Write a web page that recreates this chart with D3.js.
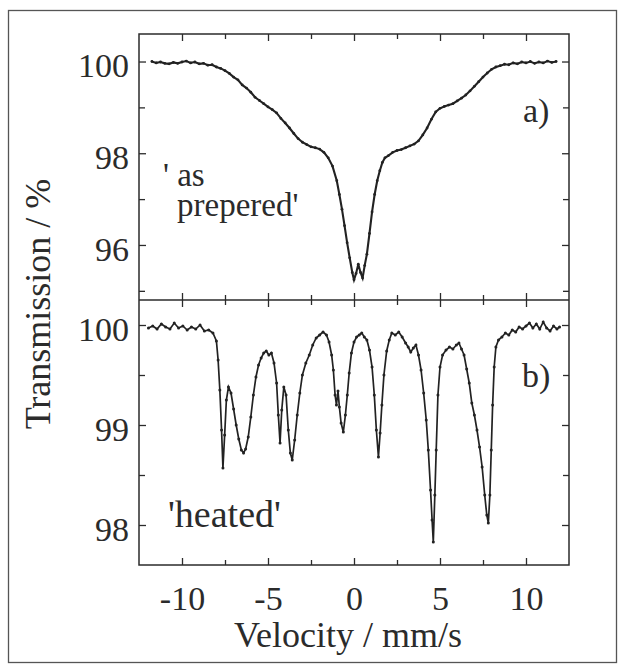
<!DOCTYPE html>
<html><head><meta charset="utf-8">
<script src="https://cdn.jsdelivr.net/npm/d3@7/dist/d3.min.js"></script>
</head><body style="margin:0">
<svg id="c" width="624" height="668" style="display:block;background:#fff"></svg>
<script>
// ---- data ----
const velocityA = [-11.75,-11.5,-11.25,-11.0,-10.75,-10.5,-10.25,-10.0,-9.75,-9.5,-9.25,-9.0,-8.75,-8.5,-8.25,-8.0,-7.75,-7.5,-7.25,-7.0,-6.75,-6.5,-6.25,-6.0,-5.75,-5.5,-5.25,-5.0,-4.75,-4.5,-4.25,-4.0,-3.75,-3.5,-3.25,-3.0,-2.75,-2.5,-2.25,-2.0,-1.75,-1.5,-1.25,-1.0,-0.85,-0.7,-0.55,-0.4,-0.25,-0.1,0.0,0.12,0.25,0.38,0.5,0.62,0.75,0.9,1.05,1.2,1.35,1.5,1.65,1.8,2.0,2.25,2.5,2.75,3.0,3.25,3.5,3.75,4.0,4.25,4.5,4.75,5.0,5.25,5.5,5.75,6.0,6.25,6.5,6.75,7.0,7.25,7.5,7.75,8.0,8.25,8.5,8.75,9.0,9.25,9.5,9.75,10.0,10.25,10.5,10.75,11.0,11.25,11.5,11.75];
const transmissionA = [100.00,99.97,99.99,99.96,99.95,99.98,99.96,99.99,100.01,99.97,99.99,99.95,99.96,99.92,99.93,99.88,99.85,99.80,99.74,99.66,99.60,99.49,99.42,99.33,99.22,99.15,99.08,99.01,98.95,98.88,98.76,98.66,98.55,98.43,98.32,98.24,98.19,98.14,98.12,98.09,98.02,97.90,97.72,97.40,97.10,96.78,96.42,96.05,95.72,95.40,95.24,95.38,95.58,95.40,95.28,95.55,95.80,96.25,96.72,97.10,97.40,97.62,97.80,97.90,97.95,98.02,98.06,98.08,98.12,98.16,98.20,98.27,98.40,98.55,98.74,98.90,98.98,99.02,99.05,99.08,99.14,99.20,99.27,99.36,99.46,99.56,99.66,99.75,99.83,99.88,99.91,99.94,99.93,99.97,99.95,99.99,99.97,100.00,99.96,99.99,99.97,100.01,99.98,100.00];

const velocityB = [-11.95,-11.7,-11.45,-11.2,-10.95,-10.7,-10.45,-10.2,-9.95,-9.7,-9.45,-9.2,-8.95,-8.7,-8.45,-8.2,-8.0,-7.9,-7.8,-7.7,-7.62,-7.52,-7.42,-7.3,-7.15,-7.0,-6.85,-6.7,-6.55,-6.42,-6.3,-6.15,-6.0,-5.85,-5.7,-5.55,-5.4,-5.25,-5.1,-4.95,-4.8,-4.65,-4.5,-4.4,-4.3,-4.2,-4.08,-3.95,-3.82,-3.7,-3.59,-3.45,-3.3,-3.15,-3.0,-2.8,-2.6,-2.4,-2.2,-2.0,-1.8,-1.6,-1.45,-1.3,-1.2,-1.1,-1.02,-0.93,-0.85,-0.75,-0.62,-0.5,-0.39,-0.28,-0.15,0.0,0.15,0.3,0.45,0.6,0.75,0.9,1.05,1.18,1.3,1.42,1.52,1.62,1.74,1.9,2.05,2.2,2.4,2.6,2.8,3.0,3.15,3.3,3.45,3.6,3.75,3.9,4.05,4.2,4.32,4.45,4.54,4.61,4.7,4.78,4.88,5.0,5.15,5.35,5.55,5.75,5.95,6.1,6.25,6.4,6.55,6.7,6.85,7.0,7.15,7.3,7.45,7.6,7.72,7.81,7.9,7.98,8.06,8.15,8.25,8.4,8.6,8.8,9.0,9.2,9.4,9.6,9.8,10.0,10.2,10.4,10.6,10.8,11.0,11.2,11.4,11.6,11.8,11.95];
const transmissionB = [99.97,99.99,99.96,100.01,99.98,99.96,100.02,99.97,99.99,99.95,99.98,99.96,100.00,99.94,99.95,99.92,99.84,99.65,99.35,98.95,98.57,98.90,99.25,99.38,99.32,99.16,99.00,98.86,98.75,98.72,98.76,98.88,99.08,99.30,99.48,99.60,99.67,99.72,99.74,99.70,99.72,99.62,99.42,99.10,98.82,99.15,99.38,99.30,98.95,98.72,98.65,98.85,99.10,99.32,99.50,99.62,99.70,99.80,99.87,99.90,99.93,99.90,99.83,99.70,99.55,99.30,99.20,99.34,99.18,99.02,98.93,99.10,99.30,99.52,99.72,99.83,99.88,99.90,99.92,99.88,99.85,99.75,99.58,99.30,98.95,98.68,98.92,99.20,99.50,99.74,99.85,99.92,99.90,99.93,99.88,99.82,99.78,99.73,99.77,99.80,99.70,99.55,99.32,99.05,98.75,98.35,98.05,97.83,98.30,98.75,99.30,99.58,99.70,99.75,99.78,99.76,99.80,99.82,99.76,99.70,99.56,99.42,99.22,99.10,98.95,98.78,98.58,98.30,98.10,98.02,98.30,98.75,99.20,99.58,99.78,99.85,99.88,99.92,99.90,99.95,99.93,99.98,99.96,99.99,100.02,99.97,100.01,99.96,100.03,99.97,99.94,99.99,99.96,99.98];

const xMajorTicks = [-10,-5,0,5,10];
const xMinorTicks = [-7.5,-2.5,2.5,7.5];
const yMajorTicksA = [96,98,100];
const yMinorTicksA = [95,97,99];
const yMajorTicksB = [98,99,100];
const yMinorTicksB = [98.5,99.5];
const xTitle = "Velocity / mm/s";
const yTitle = "Transmission / %";
const labelA = ["' as", "prepered'"];
const labelB = "'heated'";

// ---- drawing ----
const FONT = '"Liberation Serif", "Times New Roman", Tinos, FreeSerif, monospace';
const svg = d3.select("#c");
const ink = "#2b2b2b";
const L = 139, R = 569, TOP = 34, MID = 300, BOT = 565;
const fmt = d => String(d);

svg.append("rect").attr("x",8.5).attr("y",10.5).attr("width",608).attr("height",652)
  .attr("fill","none").attr("stroke","#555").attr("stroke-width",1.3);

const x = d3.scaleLinear().domain([-12.5,12.5]).range([L,R]);
const yA = d3.scaleLinear().domain([94.8,100.6]).range([MID,TOP]);
const yB = d3.scaleLinear().domain([97.6,100.25]).range([BOT,MID]);

function styleAxis(g){
  g.attr("font-family", null).attr("font-size", null);
  g.select(".domain").remove();
  g.selectAll("line").attr("stroke",ink).attr("stroke-width",1.3);
  g.selectAll("text").style("font-family",FONT).attr("font-size",34).attr("fill",ink);
}

function panel(y, top, bottom, majY, minY, showX){
  svg.append("g").attr("transform",`translate(${L},0)`)
    .call(d3.axisLeft(y).tickValues(majY).tickSize(-7).tickPadding(10).tickFormat(fmt))
    .call(styleAxis).selectAll("text").attr("dy","0.45em");
  svg.append("g").attr("transform",`translate(${L},0)`)
    .call(d3.axisLeft(y).tickValues(minY).tickSize(-6).tickFormat(""))
    .call(styleAxis);
  svg.append("g").attr("transform",`translate(${R},0)`)
    .call(d3.axisRight(y).tickValues(majY).tickSize(-7).tickFormat(""))
    .call(styleAxis);
  svg.append("g").attr("transform",`translate(${R},0)`)
    .call(d3.axisRight(y).tickValues(minY).tickSize(-6).tickFormat(""))
    .call(styleAxis);
  svg.append("g").attr("transform",`translate(0,${top})`)
    .call(d3.axisTop(x).tickValues(xMajorTicks).tickSize(-7).tickFormat(""))
    .call(styleAxis);
  svg.append("g").attr("transform",`translate(0,${top})`)
    .call(d3.axisTop(x).tickValues(xMinorTicks).tickSize(-5).tickFormat(""))
    .call(styleAxis);
  const gb = svg.append("g").attr("transform",`translate(0,${bottom})`)
    .call(d3.axisBottom(x).tickValues(xMajorTicks).tickSize(-7).tickPadding(13)
      .tickFormat(showX ? fmt : ""))
    .call(styleAxis);
  gb.selectAll("text").attr("dy","0.95em");
  svg.append("g").attr("transform",`translate(0,${bottom})`)
    .call(d3.axisBottom(x).tickValues(xMinorTicks).tickSize(-5).tickFormat(""))
    .call(styleAxis);
}

panel(yA, TOP, MID, yMajorTicksA, yMinorTicksA, false);
panel(yB, MID, BOT, yMajorTicksB, yMinorTicksB, true);

svg.append("rect").attr("x",L).attr("y",TOP).attr("width",R-L).attr("height",BOT-TOP)
  .attr("fill","none").attr("stroke",ink).attr("stroke-width",1.5);
svg.append("line").attr("x1",L).attr("x2",R).attr("y1",MID).attr("y2",MID)
  .attr("stroke",ink).attr("stroke-width",1.5);

const dataA = velocityA.map((v,i)=>[v,transmissionA[i]]);
const dataB = velocityB.map((v,i)=>[v,transmissionB[i]]);
const lineA = d3.line().x(d=>x(d[0])).y(d=>yA(d[1]));
const lineB = d3.line().x(d=>x(d[0])).y(d=>yB(d[1]));
svg.append("path").attr("d",lineA(dataA)).attr("fill","none").attr("stroke","#222").attr("stroke-width",2.1);
svg.append("path").attr("d",lineB(dataB)).attr("fill","none").attr("stroke","#222").attr("stroke-width",1.7);
svg.append("g").selectAll("circle").data(dataA).join("circle")
  .attr("cx",d=>x(d[0])).attr("cy",d=>yA(d[1])).attr("r",1.4).attr("fill","#222");
svg.append("g").selectAll("circle").data(dataB).join("circle")
  .attr("cx",d=>x(d[0])).attr("cy",d=>yB(d[1])).attr("r",1.5).attr("fill","#222");

const T = (xx,yy,size,s,anchor) => svg.append("text").attr("x",xx).attr("y",yy)
  .style("font-family",FONT).attr("font-size",size).attr("fill",ink)
  .attr("text-anchor",anchor||"start").text(s);
T(523,122,34,"a)");
T(522,387,34,"b)");
const ta = svg.append("text").style("font-family",FONT).attr("font-size",33).attr("fill",ink);
ta.append("tspan").attr("x",163).attr("y",186).text(labelA[0]);
ta.append("tspan").attr("x",177).attr("y",216).text(labelA[1]);
T(168,527,38,labelB);
T((L+R)/2-6,647,36,xTitle,"middle");
svg.append("text").attr("transform","translate(50,304) rotate(-90)").attr("text-anchor","middle")
  .style("font-family",FONT).attr("font-size",36).attr("fill",ink).text(yTitle);
</script>
</body></html>
